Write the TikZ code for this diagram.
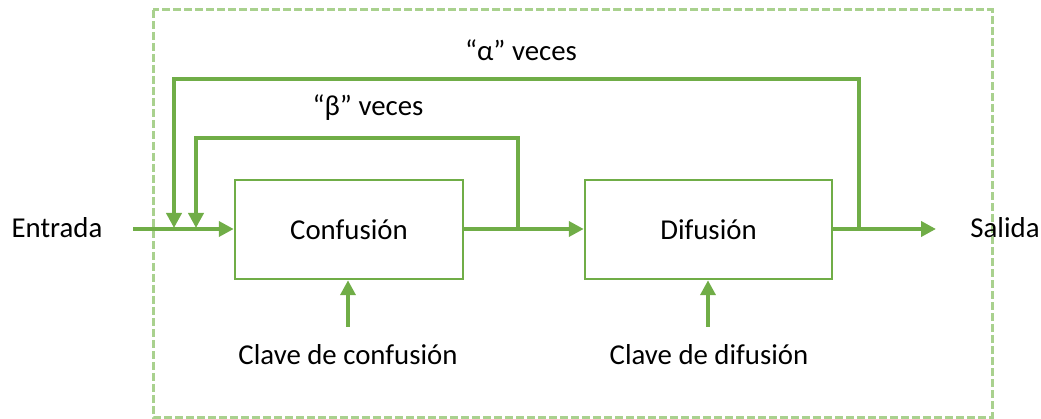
\documentclass[tikz,border=0pt]{standalone}
\usepackage{fontspec}
\setmainfont{Carlito}
\usetikzlibrary{positioning, arrows.meta}
\definecolor{verde}{HTML}{70AD47}
\definecolor{verdeclaro}{HTML}{A9D18E}

\begin{document}
\begin{tikzpicture}[x=1pt,y=-1pt,
  bloque/.style={draw=verde,line width=2.5pt,minimum width=#1,minimum height=99pt,inner sep=0pt},
  texto/.style={inner sep=0pt,font=\fontsize{28.8}{34}\selectfont},
  flecha/.style={draw=verde,line width=4pt,-{Triangle[length=15pt,width=15pt]}}]
\useasboundingbox (0,0) rectangle (1041,419);
\draw[verdeclaro,line width=3pt,dash pattern=on 8pt off 3pt] (153,10) rectangle (992,417);%el marco

\node[bloque=228pt] (conf) at (349,229.5) {};
\node[bloque=247pt] (dif) at (708.5,229.5) {};
\node[texto] at (conf) {Confusión};
\node[texto] at (dif) {Difusión};

\node[texto] (entrada) at (57,228) {Entrada};
\node[texto] (salida) at (1005,228) {Salida};
\node[texto] (kconf) at (348,355) {Clave de confusión};
\node[texto] (kdif) at (709,355) {Clave de difusión};
\node[texto] (alfa) at (521,50) {“α” veces};
\node[texto] (beta) at (368,108) {“β” veces};

\coordinate (e1) at (133,229);
\coordinate (s1) at (936,229);
\coordinate (c1) at (348,327);
\coordinate (d1) at (708,327);
\coordinate (b1) at (518,229);
\coordinate (b2) at (196,228);
\coordinate (a1) at (859,229);
\coordinate (a2) at (174,228);

% la linea principal
\draw[flecha] (e1) -- (conf.west |- e1);
\draw[flecha] (conf.east |- e1) -- (dif.west |- e1);
\draw[flecha] (dif.east |- e1) -- (s1);
\draw[flecha] (c1) -- (conf.south -| c1);
\draw[flecha] (d1) -- (dif.south -| d1);

% los bucles
\draw[flecha] (b1) |- (b2 |- 0,138) -- (b2);
\draw[flecha] (a1) |- (a2 |- 0,79) -- (a2);
\end{tikzpicture}
\end{document}
